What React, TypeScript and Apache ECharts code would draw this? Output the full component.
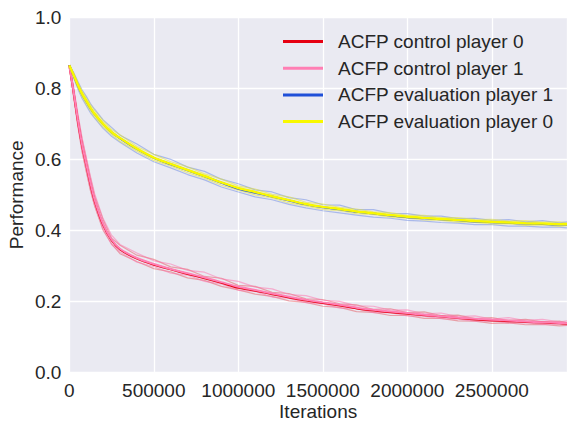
import React, { useEffect, useRef } from "react";
import * as echarts from "echarts";

const iterations = [0, 25000, 50000, 75000, 100000, 125000, 150000, 200000, 250000, 300000, 400000, 500000, 600000, 700000, 800000, 900000, 1000000, 1100000, 1200000, 1300000, 1400000, 1500000, 1600000, 1700000, 1800000, 1900000, 2000000, 2100000, 2200000, 2300000, 2400000, 2500000, 2600000, 2700000, 2800000, 2900000, 2945000];

const controlP0 = [0.865, 0.79, 0.71, 0.64, 0.585, 0.53, 0.483, 0.415, 0.372, 0.346, 0.32, 0.303, 0.29, 0.277, 0.265, 0.252, 0.238, 0.23, 0.22, 0.211, 0.202, 0.195, 0.188, 0.18, 0.174, 0.169, 0.165, 0.161, 0.157, 0.153, 0.149, 0.146, 0.144, 0.142, 0.14, 0.138, 0.137];
const controlP1 = [0.865, 0.792, 0.713, 0.643, 0.588, 0.534, 0.486, 0.418, 0.374, 0.348, 0.322, 0.305, 0.291, 0.279, 0.267, 0.254, 0.241, 0.232, 0.222, 0.213, 0.204, 0.197, 0.19, 0.182, 0.176, 0.171, 0.167, 0.162, 0.158, 0.154, 0.151, 0.148, 0.146, 0.143, 0.141, 0.139, 0.138];
const evalP1 = [0.865, 0.837, 0.809, 0.784, 0.764, 0.744, 0.727, 0.699, 0.676, 0.659, 0.629, 0.604, 0.586, 0.569, 0.552, 0.534, 0.517, 0.506, 0.495, 0.484, 0.473, 0.465, 0.459, 0.452, 0.447, 0.442, 0.437, 0.434, 0.431, 0.428, 0.425, 0.423, 0.421, 0.419, 0.418, 0.416, 0.416];
const evalP0 = [0.865, 0.838, 0.81, 0.785, 0.765, 0.745, 0.728, 0.7, 0.677, 0.66, 0.63, 0.605, 0.587, 0.57, 0.553, 0.535, 0.519, 0.508, 0.496, 0.485, 0.474, 0.466, 0.46, 0.453, 0.448, 0.443, 0.438, 0.435, 0.432, 0.429, 0.426, 0.424, 0.422, 0.42, 0.419, 0.417, 0.417];

// individual runs (faint)
const controlP0RunA = [0.865, 0.8, 0.725, 0.658, 0.603, 0.548, 0.497, 0.43, 0.378, 0.358, 0.33, 0.318, 0.297, 0.29, 0.27, 0.265, 0.245, 0.242, 0.225, 0.222, 0.207, 0.205, 0.193, 0.19, 0.177, 0.179, 0.168, 0.17, 0.16, 0.161, 0.151, 0.154, 0.146, 0.149, 0.142, 0.144, 0.14];
const controlP0RunB = [0.865, 0.778, 0.695, 0.622, 0.566, 0.512, 0.468, 0.4, 0.362, 0.334, 0.312, 0.292, 0.283, 0.266, 0.259, 0.242, 0.232, 0.22, 0.214, 0.201, 0.197, 0.186, 0.183, 0.171, 0.169, 0.16, 0.16, 0.152, 0.152, 0.145, 0.144, 0.138, 0.139, 0.134, 0.135, 0.131, 0.132];
const controlP1RunA = [0.865, 0.805, 0.73, 0.662, 0.607, 0.552, 0.503, 0.433, 0.386, 0.36, 0.336, 0.314, 0.305, 0.287, 0.282, 0.263, 0.256, 0.24, 0.235, 0.219, 0.216, 0.203, 0.2, 0.187, 0.186, 0.175, 0.176, 0.165, 0.167, 0.157, 0.159, 0.15, 0.154, 0.146, 0.149, 0.142, 0.145];
const controlP1RunB = [0.865, 0.78, 0.698, 0.626, 0.57, 0.516, 0.47, 0.404, 0.36, 0.339, 0.31, 0.298, 0.279, 0.274, 0.256, 0.249, 0.231, 0.228, 0.212, 0.209, 0.196, 0.193, 0.181, 0.18, 0.168, 0.168, 0.159, 0.158, 0.151, 0.15, 0.144, 0.145, 0.139, 0.14, 0.135, 0.136, 0.132];
const evalP1RunA = [0.865, 0.845, 0.82, 0.796, 0.778, 0.757, 0.741, 0.711, 0.69, 0.668, 0.643, 0.614, 0.6, 0.578, 0.566, 0.544, 0.531, 0.514, 0.508, 0.492, 0.486, 0.472, 0.471, 0.458, 0.458, 0.448, 0.447, 0.44, 0.44, 0.433, 0.434, 0.428, 0.43, 0.424, 0.427, 0.421, 0.424];
const evalP1RunB = [0.865, 0.83, 0.799, 0.772, 0.752, 0.731, 0.716, 0.687, 0.665, 0.648, 0.618, 0.593, 0.576, 0.557, 0.542, 0.522, 0.508, 0.494, 0.486, 0.473, 0.463, 0.455, 0.449, 0.443, 0.437, 0.434, 0.428, 0.426, 0.422, 0.42, 0.416, 0.416, 0.412, 0.412, 0.409, 0.409, 0.407];
const evalP0RunA = [0.865, 0.843, 0.817, 0.793, 0.774, 0.754, 0.737, 0.709, 0.684, 0.669, 0.636, 0.614, 0.593, 0.579, 0.559, 0.544, 0.525, 0.516, 0.501, 0.494, 0.479, 0.474, 0.465, 0.46, 0.452, 0.45, 0.442, 0.442, 0.436, 0.436, 0.43, 0.431, 0.426, 0.427, 0.423, 0.424, 0.421];
const evalP0RunB = [0.865, 0.832, 0.803, 0.777, 0.756, 0.736, 0.719, 0.691, 0.67, 0.651, 0.623, 0.597, 0.581, 0.562, 0.547, 0.527, 0.513, 0.5, 0.491, 0.477, 0.469, 0.459, 0.455, 0.447, 0.444, 0.437, 0.434, 0.429, 0.428, 0.423, 0.422, 0.418, 0.418, 0.414, 0.415, 0.411, 0.413];

const seriesNames = ["ACFP control player 0", "ACFP control player 1", "ACFP evaluation player 1", "ACFP evaluation player 0"];
const xTicks = [0, 500000, 1000000, 1500000, 2000000, 2500000];

const FONT = "'Liberation Sans', Arial, sans-serif";
const TEXT = "#262626";

const pts = (arr: number[]) => iterations.map((x, i) => [x, arr[i]]);

export default function App() {
  const ref = useRef<HTMLDivElement>(null);
  useEffect(() => {
    if (!ref.current) return;
    const chart = echarts.init(ref.current, null, { renderer: "svg" });
    const faint = (data: number[], color: string) => ({
      type: "line",
      data: pts(data),
      showSymbol: false,
      symbol: "none",
      lineStyle: { color, width: 1.2 },
      silent: true,
      z: 1,
    });
    const mean = (name: string, data: number[], color: string, width: number, z: number) => ({
      name,
      type: "line",
      data: pts(data),
      showSymbol: false,
      symbol: "none",
      smooth: 0.3,
      itemStyle: { color },
      lineStyle: { color, width },
      z,
    });
    chart.setOption({
      animation: false,
      backgroundColor: "#ffffff",
      grid: {
        left: 69.3,
        right: 0,
        top: 17.3,
        bottom: 49.7,
        show: true,
        containLabel: false,
        outerBoundsMode: "none",
        backgroundColor: "#EAEAF2",
        borderWidth: 0,
      },
      legend: {
        data: seriesNames,
        orient: "vertical",
        left: 278,
        top: 26.5,
        itemWidth: 40,
        itemHeight: 3,
        itemGap: 6.7,
        icon: "rect",
        textStyle: { fontFamily: FONT, fontSize: 19, color: TEXT, lineHeight: 20, padding: [0, 0, 0, 10] },
      },
      xAxis: {
        type: "value",
        min: 0,
        max: 2945000,
        interval: 500000,
        name: "Iterations",
        nameLocation: "middle",
        nameGap: 30,
        nameMoveOverlap: false,
        nameTextStyle: { fontFamily: FONT, fontSize: 19, color: TEXT, lineHeight: 18 },
        axisLine: { show: false },
        axisTick: { show: false },
        axisLabel: {
          fontFamily: FONT,
          fontSize: 19,
          color: TEXT,
          margin: 9,
          showMaxLabel: false,
          formatter: (v: number) => (xTicks.includes(v) ? String(v) : ""),
        },
        splitLine: { show: true, lineStyle: { color: "#ffffff", width: 1.3 } },
      },
      yAxis: {
        type: "value",
        min: 0,
        max: 1,
        interval: 0.2,
        name: "Performance",
        nameLocation: "middle",
        nameRotate: 90,
        nameGap: 43,
        nameMoveOverlap: false,
        nameTextStyle: { fontFamily: FONT, fontSize: 19, color: TEXT, lineHeight: 19 },
        axisLine: { show: false },
        axisTick: { show: false },
        axisLabel: {
          fontFamily: FONT,
          fontSize: 19,
          color: TEXT,
          margin: 8,
          formatter: (v: number) => v.toFixed(1),
        },
        splitLine: { show: true, lineStyle: { color: "#ffffff", width: 1.3 } },
      },
      series: [
        faint(controlP0RunA, "rgba(225,20,30,0.35)"),
        faint(controlP0RunB, "rgba(225,20,30,0.35)"),
        faint(controlP1RunA, "rgba(255,110,170,0.5)"),
        faint(controlP1RunB, "rgba(255,110,170,0.5)"),
        faint(evalP1RunA, "rgba(90,125,225,0.45)"),
        faint(evalP1RunB, "rgba(90,125,225,0.45)"),
        faint(evalP0RunA, "rgba(225,225,60,0.55)"),
        faint(evalP0RunB, "rgba(225,225,60,0.55)"),
        mean(seriesNames[0], controlP0, "#e60012", 2, 3),
        mean(seriesNames[1], controlP1, "#ff7fb4", 2, 4),
        mean(seriesNames[2], evalP1, "#1f4fd8", 2, 5),
        mean(seriesNames[3], evalP0, "#f8f800", 2.5, 6),
      ],
    });
    return () => chart.dispose();
  }, []);
  return (
    <div
      ref={ref}
      style={{ position: "fixed", left: 0, top: 0, width: 567, height: 422 }}
    />
  );
}
